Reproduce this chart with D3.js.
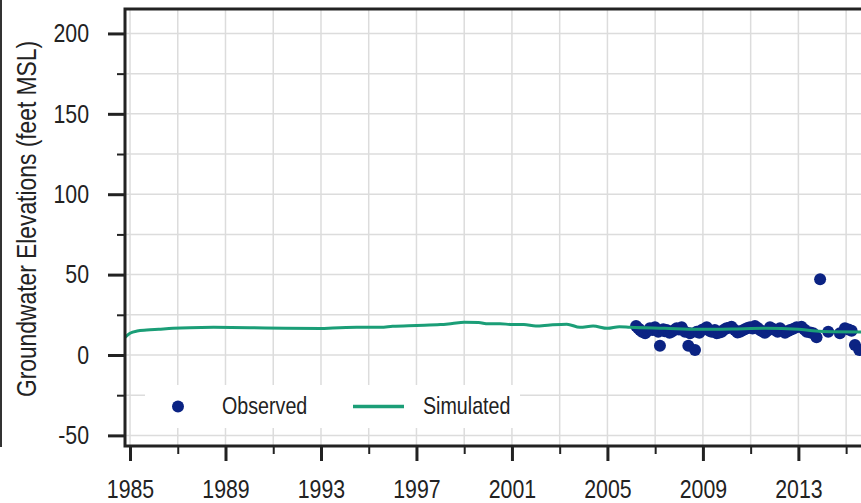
<!DOCTYPE html>
<html>
<head>
<meta charset="utf-8">
<script src="https://cdn.jsdelivr.net/npm/d3@7"></script>
<style>
  body { margin: 0; background: #fff; }
  svg text { font-family: "Liberation Sans", Arial, sans-serif; fill: #222; }
</style>
</head>
<body>
<svg id="chart" width="861" height="503"></svg>
<script>
// simulated heads (decimal year, feet MSL)
var simYears = [1984.79, 1985.0, 1985.3, 1985.7, 1986.2, 1986.8, 1987.5, 1988.5, 1990.0, 1991.5,
                1993.0, 1993.5, 1994.5, 1995.5, 1996.0, 1997.0, 1998.0, 1998.5, 1999.0, 1999.6,
                2000.0, 2000.5, 2001.0, 2001.5, 2002.0, 2002.6, 2003.3, 2003.85, 2004.4, 2005.0,
                2005.5, 2005.95, 2007.4, 2008.8, 2010.2, 2011.6, 2013.0, 2013.6, 2014.4, 2016.0];
var simValues = [11.0, 13.5, 14.9, 15.5, 16.0, 16.6, 17.0, 17.2, 17.0, 16.6,
                 16.5, 16.8, 17.2, 17.3, 17.9, 18.4, 18.9, 19.6, 20.3, 20.2,
                 19.4, 19.5, 18.9, 19.0, 18.0, 18.7, 19.2, 17.2, 18.0, 16.6,
                 17.6, 17.2, 16.6, 16.0, 16.2, 16.6, 16.0, 15.1, 14.5, 14.3];

// observed heads
var obsYears = [2006.2, 2006.3, 2006.37, 2006.45, 2006.58, 2006.7, 2006.78, 2006.9, 2006.99, 2007.13,
                2007.2, 2007.34, 2007.4, 2007.48, 2007.6, 2007.69, 2007.8, 2007.9, 2008.0, 2008.11,
                2008.25, 2008.39, 2008.46, 2008.67, 2008.74, 2008.85, 2008.95, 2009.05, 2009.16, 2009.27,
                2009.37, 2009.5, 2009.58, 2009.7, 2009.79, 2009.9, 2009.99, 2010.1, 2010.2, 2010.34,
                2010.45, 2010.55, 2010.65, 2010.76, 2010.87, 2010.97, 2011.08, 2011.18, 2011.3, 2011.39,
                2011.5, 2011.6, 2011.7, 2011.81, 2011.92, 2012.02, 2012.13, 2012.23, 2012.35, 2012.44,
                2012.55, 2012.65, 2012.8, 2012.93, 2013.13, 2013.25, 2013.35, 2013.5, 2013.62, 2013.76,
                2013.91, 2014.25, 2014.74, 2014.95, 2015.1, 2015.23, 2015.37, 2015.55];
var obsValues = [18.0, 16.5, 15.5, 14.5, 13.5, 15.0, 16.6, 15.5, 17.2, 14.5,
                 5.8, 16.0, 14.8, 15.5, 13.8, 14.5, 15.5, 16.6, 15.8, 17.2,
                 14.5, 5.8, 13.5, 3.1, 14.5, 13.8, 15.5, 16.2, 17.2, 15.0,
                 14.5, 15.5, 13.5, 14.0, 14.5, 15.8, 16.6, 17.0, 17.6, 15.5,
                 14.0, 14.5, 15.2, 16.0, 16.8, 17.2, 16.5, 18.0, 16.8, 15.5,
                 14.6, 13.9, 15.0, 17.2, 16.4, 15.5, 14.5, 16.6, 15.0, 13.9,
                 14.8, 15.5, 16.4, 17.2, 17.6, 15.8, 14.5, 14.0, 13.5, 11.0,
                 47.1, 14.5, 13.5, 16.6, 15.8, 15.1, 6.2, 3.1];

var majorYears = [1985, 1989, 1993, 1997, 2001, 2005, 2009, 2013];
var minorYears = [1987, 1991, 1995, 1999, 2003, 2007, 2011, 2015];
var majorElev = [-50, 0, 50, 100, 150, 200];
var minorElev = [-25, 25, 75, 125, 175];

var svg = d3.select("#chart");

var plot = {left: 125, right: 870, top: 9, bottom: 446};
var squeeze = 0.82;  // source font is a condensed face

var xScale = d3.scaleLinear()
  .domain([1984.79, 2016.0])
  .range([plot.left, plot.right]);

var yScale = d3.scaleLinear()
  .domain([-56.6, 215.2])
  .range([plot.bottom, plot.top]);

// clip for the plot area
svg.append("clipPath").attr("id", "clip")
  .append("rect")
  .attr("x", plot.left).attr("y", plot.top)
  .attr("width", plot.right - plot.left).attr("height", plot.bottom - plot.top);

// grid
var grid = svg.append("g").attr("clip-path", "url(#clip)");
grid.selectAll(".vgrid").data(majorYears.concat(minorYears))
  .join("line")
  .attr("x1", d => xScale(d)).attr("x2", d => xScale(d))
  .attr("y1", plot.top).attr("y2", plot.bottom)
  .attr("stroke", "#dcdcdc").attr("stroke-width", 1.5);
grid.selectAll(".hgrid").data(majorElev.concat(minorElev))
  .join("line")
  .attr("y1", d => yScale(d)).attr("y2", d => yScale(d))
  .attr("x1", plot.left).attr("x2", plot.right)
  .attr("stroke", "#dcdcdc").attr("stroke-width", 1.5);

var simData = simYears.map((y, i) => ({x: y, y: simValues[i]}));
var obsData = obsYears.map((y, i) => ({x: y, y: obsValues[i]}));

var marks = svg.append("g").attr("clip-path", "url(#clip)");

marks.selectAll("circle").data(obsData)
  .join("circle")
  .attr("cx", d => xScale(d.x))
  .attr("cy", d => yScale(d.y))
  .attr("r", 6)
  .attr("fill", "#0b2383");

var lineGen = d3.line()
  .x(d => xScale(d.x))
  .y(d => yScale(d.y))
  .curve(d3.curveMonotoneX);

marks.append("path")
  .datum(simData)
  .attr("d", lineGen)
  .attr("fill", "none")
  .attr("stroke", "#1b9e77")
  .attr("stroke-width", 3);

// squeeze a text horizontally around its own x anchor
function narrow(sel) {
  sel.each(function() {
    var t = d3.select(this);
    var x = +t.attr("x") || 0;
    t.attr("transform", `translate(${x},0) scale(${squeeze},1) translate(${-x},0)`);
  });
}

// axes
var yAxisG = svg.append("g")
  .attr("transform", `translate(${plot.left},0)`)
  .call(d3.axisLeft(yScale).tickValues(majorElev).tickSize(17).tickPadding(19).tickFormat(d => String(d)));
yAxisG.selectAll("text").style("font-size", "26px").attr("fill", "#222").call(narrow);
yAxisG.selectAll("line").attr("stroke", "#222").attr("stroke-width", 3);
yAxisG.select(".domain").remove();

var yMinorG = svg.append("g")
  .attr("transform", `translate(${plot.left},0)`)
  .call(d3.axisLeft(yScale).tickValues(minorElev).tickSize(8).tickFormat(""));
yMinorG.selectAll("line").attr("stroke", "#222").attr("stroke-width", 2);
yMinorG.select(".domain").remove();

var xAxisG = svg.append("g")
  .attr("transform", `translate(0,${plot.bottom})`)
  .call(d3.axisBottom(xScale).tickValues(majorYears).tickSize(15).tickFormat(d => String(d)));
xAxisG.selectAll("text").style("font-size", "26px").attr("fill", "#222")
  .attr("y", 52).attr("dy", "0").call(narrow);
xAxisG.selectAll("line").attr("stroke", "#222").attr("stroke-width", 3);
xAxisG.select(".domain").remove();

var xMinorG = svg.append("g")
  .attr("transform", `translate(0,${plot.bottom})`)
  .call(d3.axisBottom(xScale).tickValues(minorYears).tickSize(8).tickFormat(""));
xMinorG.selectAll("line").attr("stroke", "#222").attr("stroke-width", 2);
xMinorG.select(".domain").remove();

// spines
svg.append("path")
  .attr("d", `M${plot.right},${plot.top}H${plot.left}V${plot.bottom}H${plot.right}`)
  .attr("fill", "none").attr("stroke", "#222").attr("stroke-width", 3);

// left frame line
svg.append("line")
  .attr("x1", 1).attr("x2", 1).attr("y1", 0).attr("y2", 447)
  .attr("stroke", "#333").attr("stroke-width", 2);

// y label
svg.append("text")
  .attr("transform", `translate(36,219) rotate(-90) scale(0.845,1)`)
  .attr("text-anchor", "middle")
  .style("font-size", "27px")
  .text("Groundwater Elevations (feet MSL)");

// legend
var legend = svg.append("g");
legend.append("rect")
  .attr("x", 145).attr("y", 385).attr("width", 375).attr("height", 43)
  .attr("fill", "#fff");
legend.append("circle").attr("cx", 178).attr("cy", 406.5).attr("r", 6).attr("fill", "#0b2383");
legend.append("line").attr("x1", 353).attr("x2", 404).attr("y1", 406.5).attr("y2", 406.5)
  .attr("stroke", "#1b9e77").attr("stroke-width", 3.5);
legend.selectAll("text").data([{x: 222, label: "Observed"}, {x: 423, label: "Simulated"}])
  .join("text")
  .attr("x", d => d.x).attr("y", 414.5)
  .style("font-size", "24px")
  .text(d => d.label)
  .call(narrow);
</script>
</body>
</html>
